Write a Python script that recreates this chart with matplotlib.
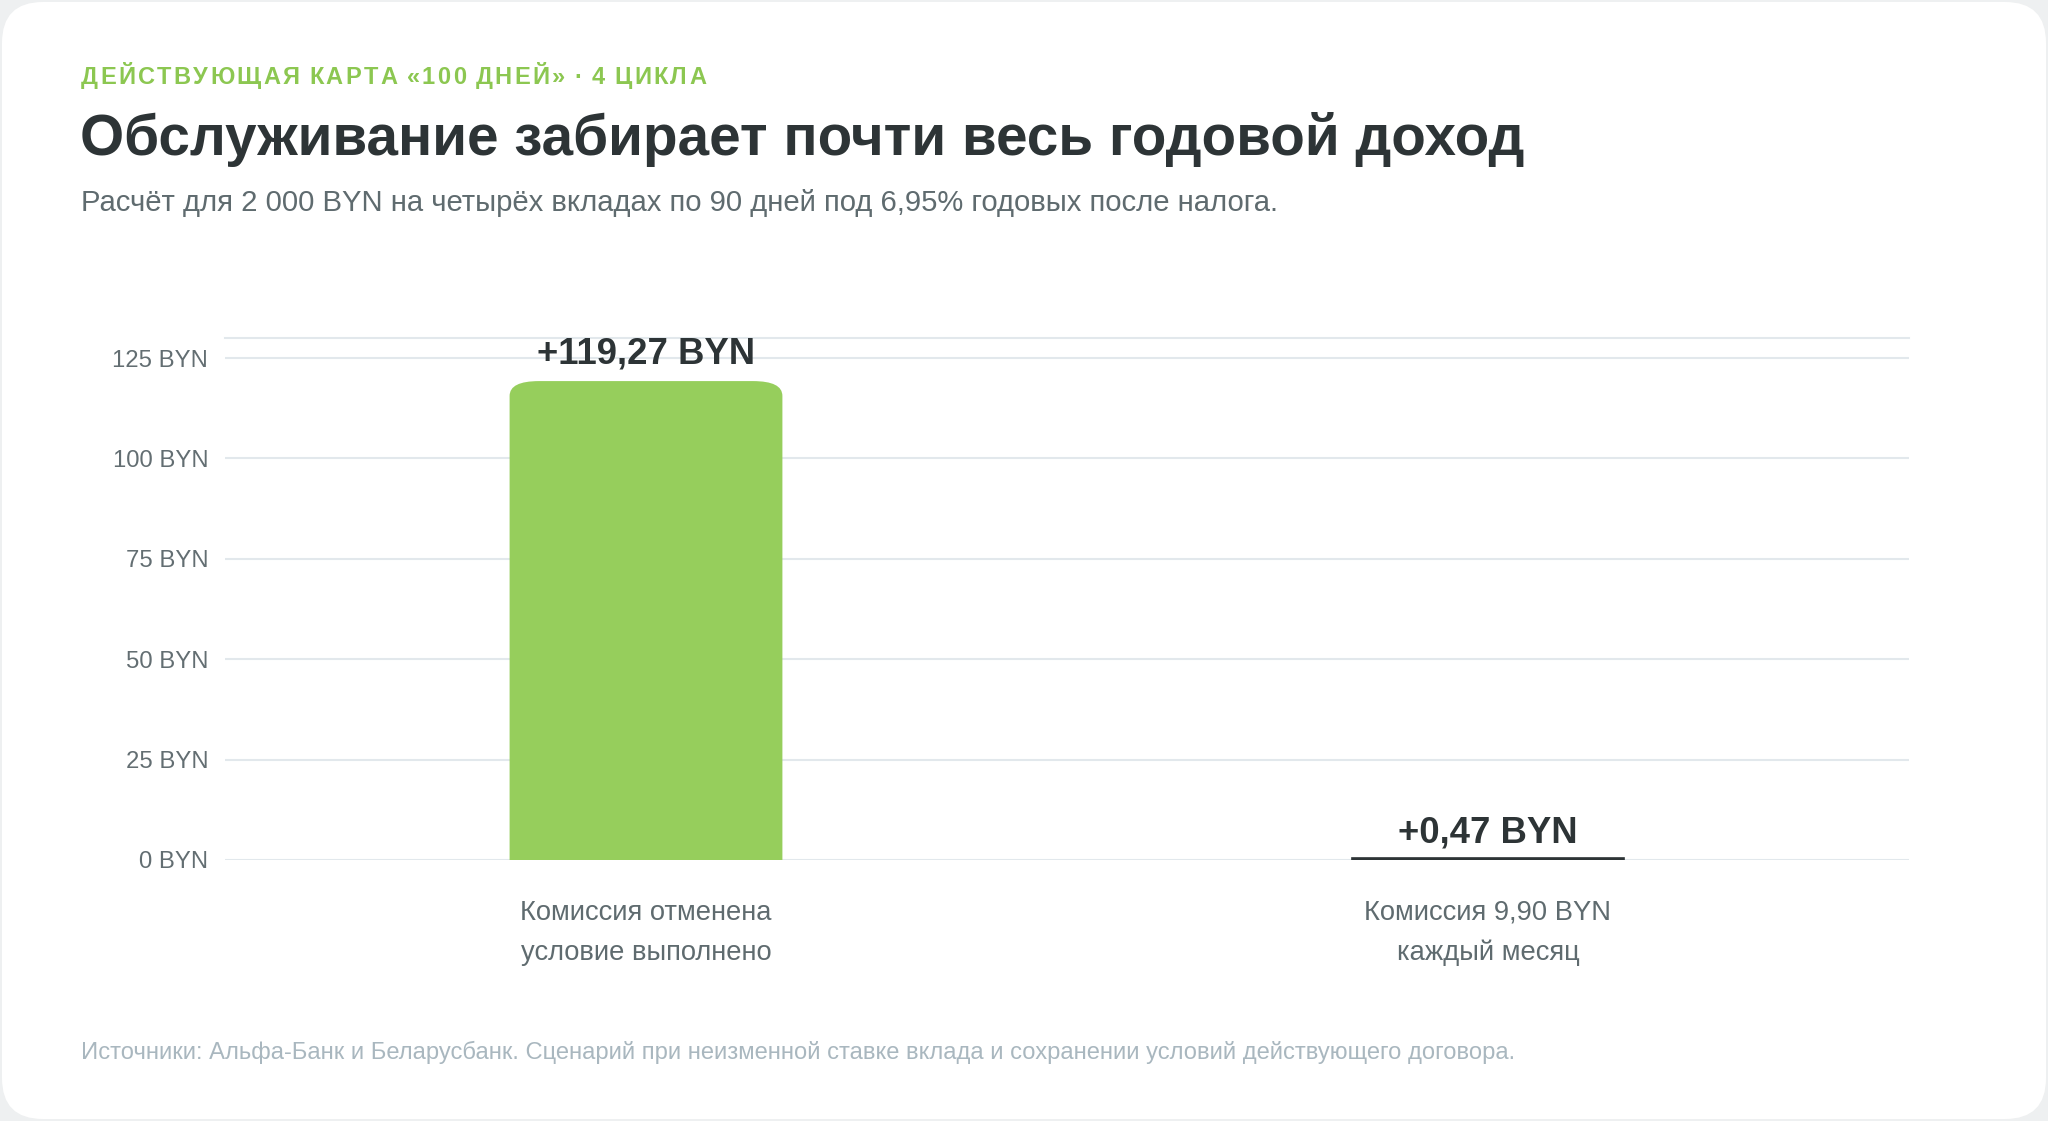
import numpy as np
import matplotlib
matplotlib.use('Agg')
import matplotlib.pyplot as plt
from matplotlib.patches import FancyBboxPatch

plt.rcParams['font.family'] = ['Liberation Sans', 'DejaVu Sans']

# данные
categories = ['Комиссия отменена\nусловие выполнено', 'Комиссия 9,90 BYN\nкаждый месяц']
values = [119.27, 0.47]
value_labels = ['+119,27 BYN', '+0,47 BYN']
yticks = [0, 25, 50, 75, 100, 125]
ytick_labels = ['%d BYN' % v for v in yticks]

kicker = 'ДЕЙСТВУЮЩАЯ КАРТА «100 ДНЕЙ» · 4 ЦИКЛА'
title = 'Обслуживание забирает почти весь годовой доход'
subtitle = 'Расчёт для 2 000 BYN на четырёх вкладах по 90 дней под 6,95% годовых после налога.'
source = ('Источники: Альфа-Банк и Беларусбанк. Сценарий при неизменной ставке вклада '
          'и сохранении условий действующего договора.')

green = '#96ce5c'
dark = '#2d3436'
grid_c = '#e2e8ec'
W, H = 2048, 1121

fig = plt.figure(figsize=(W / 100, H / 100), dpi=100)
fig.patch.set_facecolor('#eef0f1')

# белая карточка
card = FancyBboxPatch((2 / W, 2 / H), 1 - 4 / W, 1 - 4 / H,
                      boxstyle='round,pad=0,rounding_size=0.02',
                      mutation_aspect=W / H,
                      transform=fig.transFigure, facecolor='white',
                      edgecolor='none', zorder=-5)
fig.patches.append(card)

# надзаголовок с разрядкой
renderer = fig.canvas.get_renderer()
xpos = 81.0
for ch in kicker:
    t = fig.text(xpos / W, 1 - 84 / H, ch, color='#8cc751', fontsize=17,
                 fontweight='bold', ha='left', va='baseline')
    xpos += t.get_window_extent(renderer).width + 2.3 if ch != ' ' else 7.3

fig.text(80 / W, 1 - 155 / H, title, color=dark, fontsize=40.8,
         fontweight='bold', ha='left', va='baseline')
fig.text(81 / W, 1 - 211 / H, subtitle, color='#5f6b6f', fontsize=21.1,
         ha='left', va='baseline')
fig.text(81 / W, 1 - 1059 / H, source, color='#a9b7bf', fontsize=17.1,
         ha='left', va='baseline')

ax = fig.add_axes([225 / W, 1 - 860 / H, (1909 - 225) / W, (860 - 338) / H])
ax.set_facecolor('none')

x = np.arange(len(categories))
bars = ax.bar(x, values, width=0.324, color=[green, dark], zorder=3)

# скруглённый верх у зелёного столбика
b = bars[0]
b.set_visible(False)
rounded = FancyBboxPatch((b.get_x(), -4), b.get_width(), b.get_height() + 4,
                         boxstyle='round,pad=0,rounding_size=0.035',
                         mutation_aspect=105,
                         facecolor=green, edgecolor='none', zorder=3)
ax.add_patch(rounded)
bars[1].set_edgecolor(dark)
bars[1].set_linewidth(1.2)

offsets = [13, 11.5]
for xi, v, lab, off in zip(x, values, value_labels, offsets):
    ax.annotate(lab, (xi, v), xytext=(0, off), textcoords='offset points',
                ha='center', va='baseline', fontsize=26.3, fontweight='bold',
                color=dark, zorder=5)

ax.set_xlim(-0.5, 1.5)
ax.set_ylim(0, 130)
ax.set_yticks(yticks)
ax.set_yticklabels(ytick_labels)
ax.set_xticks(x)
ax.set_xticklabels(categories, linespacing=1.7)
ax.tick_params(axis='y', length=0, pad=12, labelsize=17.2, labelcolor='#636e72')
ax.tick_params(axis='x', length=0, pad=28.5, labelsize=19.7, labelcolor='#5f6b6f')
ax.grid(axis='y', color=grid_c, linewidth=1.5, zorder=1)
for s in ['left', 'right', 'bottom']:
    ax.spines[s].set_visible(False)
ax.spines['top'].set_color(grid_c)
ax.spines['top'].set_linewidth(1.5)

fig.savefig('out.png', dpi=100, facecolor=fig.get_facecolor())
